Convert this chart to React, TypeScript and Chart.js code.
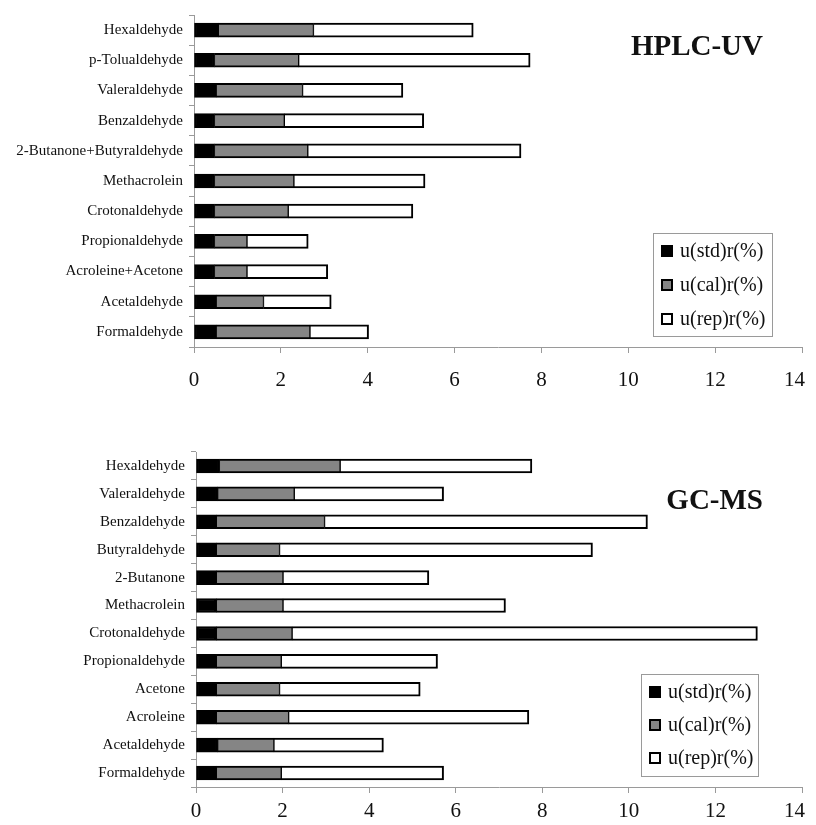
import React, { useEffect, useRef } from "react";
import { Chart, registerables } from "chart.js";

Chart.register(...registerables);

// ---------- DATA ----------
const seriesLabels = ["u(std)r(%)", "u(cal)r(%)", "u(rep)r(%)"];
const xTickValues = [0, 2, 4, 6, 8, 10, 12, 14];

// HPLC-UV (top to bottom); stacked segment lengths
const hplcCategories = [
  "Hexaldehyde",
  "p-Tolualdehyde",
  "Valeraldehyde",
  "Benzaldehyde",
  "2-Butanone+Butyraldehyde",
  "Methacrolein",
  "Crotonaldehyde",
  "Propionaldehyde",
  "Acroleine+Acetone",
  "Acetaldehyde",
  "Formaldehyde",
];
const hplcStd = [0.56, 0.47, 0.51, 0.47, 0.47, 0.47, 0.47, 0.47, 0.47, 0.51, 0.51];
const hplcCal = [2.19, 1.94, 1.99, 1.61, 2.15, 1.83, 1.70, 0.75, 0.75, 1.09, 2.16];
const hplcRep = [3.68, 5.33, 2.31, 3.21, 4.91, 3.02, 2.87, 1.41, 1.86, 1.56, 1.35];

// GC-MS (top to bottom); stacked segment lengths
const gcmsCategories = [
  "Hexaldehyde",
  "Valeraldehyde",
  "Benzaldehyde",
  "Butyraldehyde",
  "2-Butanone",
  "Methacrolein",
  "Crotonaldehyde",
  "Propionaldehyde",
  "Acetone",
  "Acroleine",
  "Acetaldehyde",
  "Formaldehyde",
];
const gcmsStd = [0.54, 0.50, 0.47, 0.47, 0.47, 0.47, 0.47, 0.47, 0.47, 0.47, 0.50, 0.47];
const gcmsCal = [2.79, 1.77, 2.50, 1.46, 1.54, 1.54, 1.75, 1.50, 1.46, 1.67, 1.30, 1.50];
const gcmsRep = [4.43, 3.45, 7.46, 7.23, 3.37, 5.14, 10.75, 3.61, 3.25, 5.55, 2.53, 3.75];

const SERIF = '"Liberation Serif", "Times New Roman", serif';

const overlayPlugin = {
  id: "overlay",
  afterDraw(chart: any, _args: any, opts: any) {
    const { ctx, chartArea } = chart;
    ctx.save();

    // X tick labels (drawn from the scale, kept inside the canvas)
    const xs = chart.scales.x;
    ctx.font = `21px ${SERIF}`;
    ctx.fillStyle = "#111";
    ctx.textAlign = "center";
    ctx.textBaseline = "alphabetic";
    xTickValues.forEach((v) => {
      let px = xs.getPixelForValue(v);
      const w = ctx.measureText(String(v)).width;
      px = Math.min(px, chartArea.right + 3 - w / 2);
      ctx.fillText(String(v), px, chartArea.bottom + opts.labelBase);
    });

    // Title
    ctx.font = `bold 29px ${SERIF}`;
    ctx.fillStyle = "#111";
    ctx.textAlign = "right";
    ctx.fillText(opts.title, opts.titleX, opts.titleY);

    // Legend box
    const { lx, ly, lw, lh, step, firstY } = opts;
    ctx.fillStyle = "#fff";
    ctx.fillRect(lx, ly, lw, lh);
    ctx.strokeStyle = "#9a9a9a";
    ctx.lineWidth = 1;
    ctx.strokeRect(lx + 0.5, ly + 0.5, lw, lh);

    ctx.font = `20px ${SERIF}`;
    ctx.textAlign = "left";
    ctx.textBaseline = "middle";
    chart.data.datasets.forEach((ds: any, i: number) => {
      const cy = ly + firstY + i * step;
      const sx = lx + 8;
      const s = 12;
      ctx.fillStyle = ds.backgroundColor;
      ctx.fillRect(sx, cy - s / 2, s, s);
      ctx.strokeStyle = "#000";
      ctx.lineWidth = 2;
      ctx.strokeRect(sx + 1, cy - s / 2 + 1, s - 2, s - 2);
      ctx.fillStyle = "#111";
      ctx.fillText(ds.label, sx + s + 7, cy + 1);
    });
    ctx.restore();
  },
};

type Props = {
  categories: string[];
  std: number[];
  cal: number[];
  rep: number[];
  height: number;
  padTop: number;
  yWidth: number;
  xHeight: number;
  overlay: any;
};

function StackChart(p: Props) {
  const ref = useRef<HTMLCanvasElement | null>(null);
  useEffect(() => {
    if (!ref.current) return;
    const chart = new Chart(ref.current, {
      type: "bar",
      data: {
        labels: p.categories,
        datasets: [
          {
            label: seriesLabels[0],
            data: p.std,
            backgroundColor: "#000",
            borderColor: "#000",
            borderWidth: 2,
            borderSkipped: false,
            barThickness: 14,
          },
          {
            label: seriesLabels[1],
            data: p.cal,
            backgroundColor: "#858585",
            borderColor: "#000",
            borderWidth: { top: 2, bottom: 2, left: 1, right: 1 },
            borderSkipped: false,
            barThickness: 14,
          },
          {
            label: seriesLabels[2],
            data: p.rep,
            backgroundColor: "#fff",
            borderColor: "#000",
            borderWidth: { top: 2, bottom: 2, left: 1, right: 2 },
            borderSkipped: false,
            barThickness: 14,
          },
        ] as any,
      },
      options: {
        indexAxis: "y",
        animation: false,
        responsive: false,
        maintainAspectRatio: false,
        layout: { padding: { top: p.padTop, right: 14, left: 0, bottom: 0 } },
        plugins: {
          legend: { display: false },
          tooltip: { enabled: false },
          overlay: p.overlay,
        } as any,
        scales: {
          x: {
            stacked: true,
            min: 0,
            max: 14,
            afterBuildTicks: (scale: any) => {
              scale.ticks = xTickValues.map((v) => ({ value: v }));
            },
            afterFit: (scale: any) => {
              scale.height = p.xHeight;
              scale.paddingRight = 0;
              scale.paddingLeft = 0;
            },
            ticks: { display: false },
            grid: {
              display: true,
              drawOnChartArea: false,
              drawTicks: true,
              tickLength: 6,
              color: "#9a9a9a",
            },
            border: { display: true, color: "#9a9a9a", width: 1 },
          },
          y: {
            stacked: true,
            afterFit: (scale: any) => {
              scale.width = p.yWidth;
            },
            ticks: {
              font: { family: SERIF, size: 15 },
              color: "#111",
              padding: 6,
              autoSkip: false,
            },
            grid: {
              display: true,
              offset: true,
              drawOnChartArea: false,
              drawTicks: true,
              tickLength: 5,
              color: "#9a9a9a",
            },
            border: { display: true, color: "#9a9a9a", width: 1 },
          },
        },
      },
      plugins: [overlayPlugin],
    });
    return () => chart.destroy();
  }, []);
  return (
    <canvas
      ref={ref}
      width={816}
      height={p.height}
      style={{ display: "block", width: 816, height: p.height }}
    />
  );
}

export default function App() {
  return (
    <div style={{ margin: "-8px", width: 816, background: "#fff" }}>
      <StackChart
        categories={hplcCategories}
        std={hplcStd}
        cal={hplcCal}
        rep={hplcRep}
        height={412}
        padTop={12}
        yWidth={194}
        xHeight={65}
        overlay={{
          labelBase: 39,
          title: "HPLC-UV",
          titleX: 763,
          titleY: 55,
          lx: 653,
          ly: 233,
          lw: 119,
          lh: 103,
          firstY: 18,
          step: 34,
        }}
      />
      <StackChart
        categories={gcmsCategories}
        std={gcmsStd}
        cal={gcmsCal}
        rep={gcmsRep}
        height={413}
        padTop={40}
        yWidth={196}
        xHeight={38}
        overlay={{
          labelBase: 30,
          title: "GC-MS",
          titleX: 763,
          titleY: 97,
          lx: 641,
          ly: 262,
          lw: 117,
          lh: 102,
          firstY: 18,
          step: 33,
        }}
      />
    </div>
  );
}
